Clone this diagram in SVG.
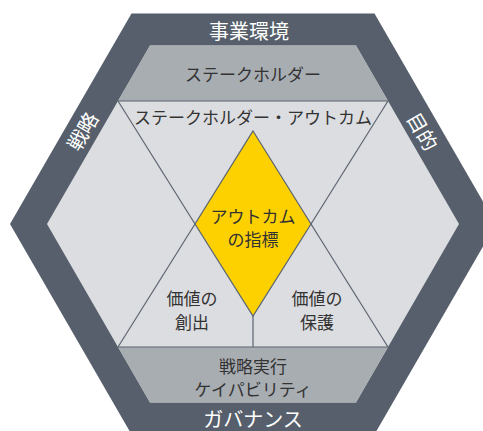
<svg xmlns="http://www.w3.org/2000/svg" width="483" height="431" viewBox="0 0 483 431">
<style>
.t{font-family:"Noto Sans CJK JP","Noto Sans",sans-serif;text-anchor:middle;dominant-baseline:central}
.w{fill:#ffffff;font-size:20px}
.d{fill:#333333;font-size:17px}
.ln{stroke:#5b6470;stroke-width:1.2;fill:none}
</style>
<rect width="483" height="431" fill="#ffffff"/>
<g id="outer">
<polygon points="10,224 131.5,13.6 374.5,13.6 496,224 374.5,434.4 131.5,434.4" fill="#565f6b"/>
</g>
<g id="inner">
<polygon points="47,224 150,45.6 356,45.6 459,224 356,402.4 150,402.4" fill="#dcdde0"/>
</g>
<g id="stakeholder-band">
<polygon points="150,45.6 356,45.6 388,101 118,101" fill="#a8adb2"/>
</g>
<g id="capability-band">
<polygon points="118,347 388,347 356,402.4 150,402.4" fill="#a8adb2"/>
</g>
<g id="indicator">
<polygon points="253,131 311,224 253,316 195,224" fill="#fdd100" stroke="#5b6470" stroke-width="1.2"/>
</g>
<g id="connectors">
<line class="ln" x1="118" y1="101" x2="388" y2="101" stroke="#7a828c"/>
<line class="ln" x1="118" y1="347" x2="388" y2="347" stroke="#7a828c"/>
<line class="ln" x1="118" y1="101" x2="195" y2="224"/>
<line class="ln" x1="118" y1="347" x2="195" y2="224"/>
<line class="ln" x1="388" y1="101" x2="311" y2="224"/>
<line class="ln" x1="388" y1="347" x2="311" y2="224"/>
<line class="ln" x1="253" y1="316" x2="253" y2="347"/>
</g>
<g id="labels">
<text class="t w" x="249" y="30">事業環境</text>
<text class="t w" x="253" y="418">ガバナンス</text>
<text class="t w" transform="translate(82,131) rotate(-60)">戦略</text>
<text class="t w" transform="translate(423,131) rotate(60)">目的</text>
<text class="t d" x="253" y="73">ステークホルダー</text>
<text class="t d" x="253" y="116">ステークホルダー・アウトカム</text>
<text class="t d" x="253" y="215">アウトカム</text>
<text class="t d" x="253" y="238">の指標</text>
<text class="t d" x="192" y="297">価値の</text>
<text class="t d" x="192" y="321">創出</text>
<text class="t d" x="317" y="297">価値の</text>
<text class="t d" x="317" y="321">保護</text>
<text class="t d" x="253" y="365">戦略実行</text>
<text class="t d" x="253" y="388">ケイパビリティ</text>
</g>
</svg>
